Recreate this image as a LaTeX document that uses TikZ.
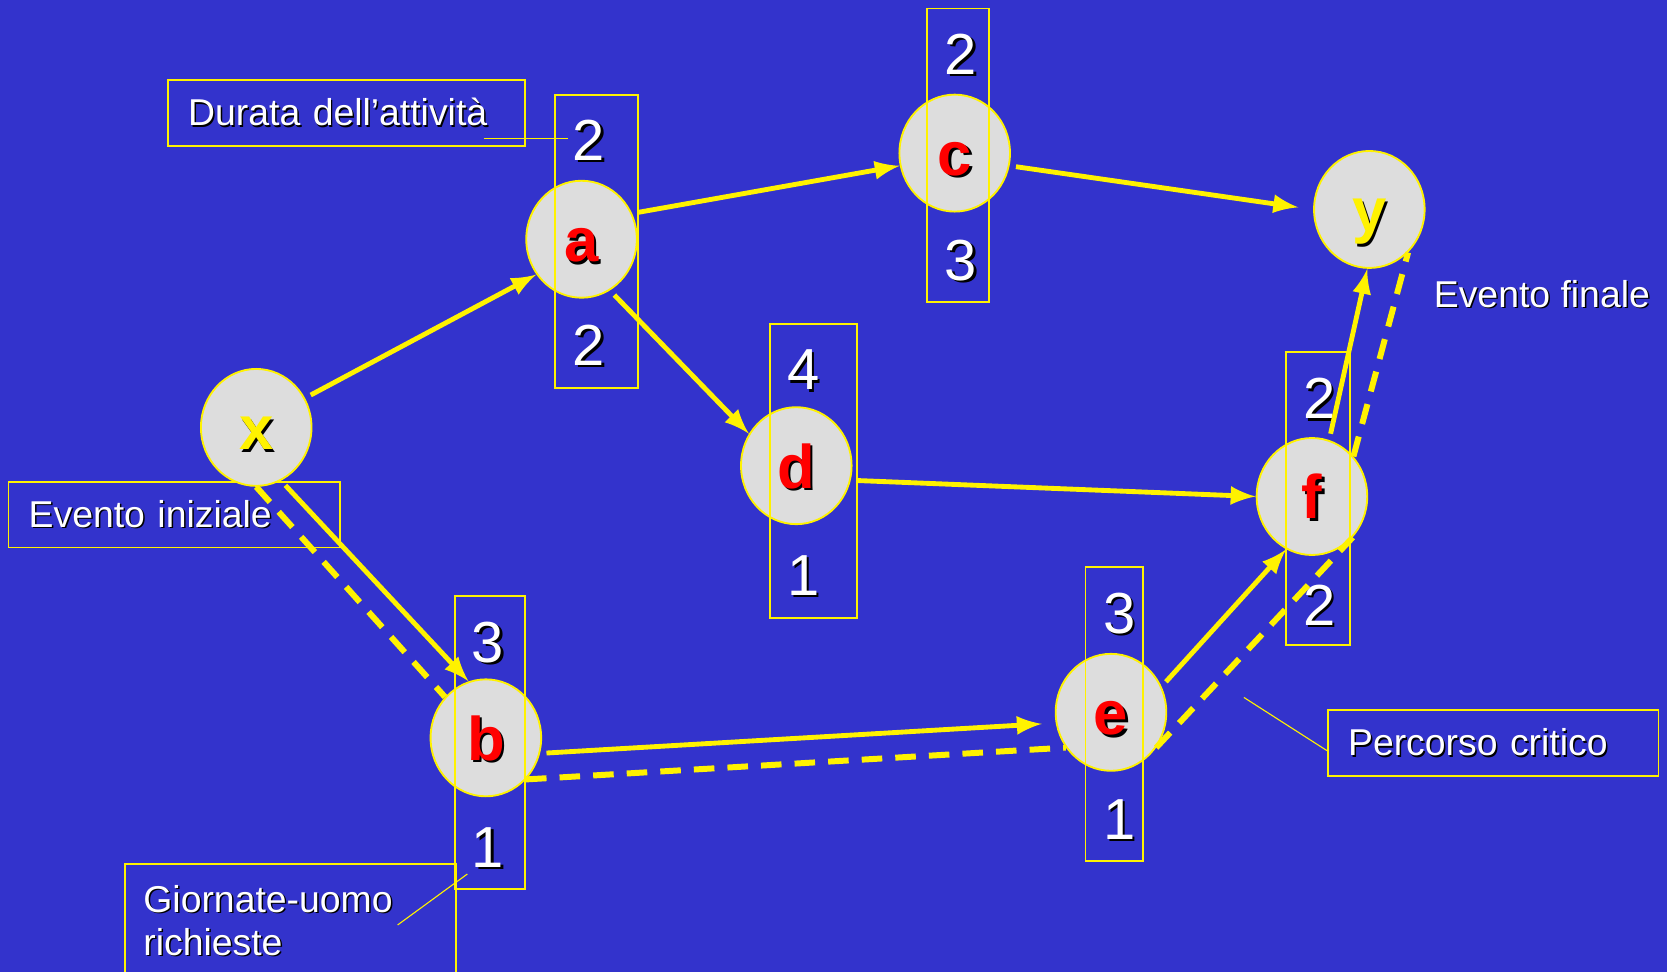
\documentclass[tikz,border=0pt]{standalone}
\usepackage{fontspec}
\setmainfont{Liberation Sans}
\usetikzlibrary{shapes.geometric, arrows}

\definecolor{slideblue}{RGB}{51,51,204}
\definecolor{eventgray}{RGB}{221,221,221}
% text with a small dark drop shadow
\newcommand{\shd}[2]{\leavevmode\rlap{\kern0.04em\raisebox{-0.04em}{\color{black}#2}}\textcolor{#1}{#2}}

\tikzset{
  event/.style={ellipse, draw=yellow, line width=0.5pt, fill=eventgray,
    minimum width=1.04cm, minimum height=1.10cm, inner sep=0pt,
    text height=12pt, text depth=0pt, font=\fontsize{16.5}{17}\selectfont\bfseries},
  timebox/.style={draw=yellow, line width=0.5pt, minimum height=2.76cm, inner sep=0pt},
  num/.style={font=\fontsize{15.5}{16}\selectfont, inner sep=1pt},
  act/.style={draw=yellow, line width=1.3pt, -latex, shorten <=0.06cm},
  crit/.style={draw=yellow, line width=1.6pt, dash pattern=on 5.5pt off 3.5pt},
  notebox/.style={draw=yellow, line width=0.5pt, align=left, inner xsep=0.19cm,
    inner ysep=0pt, font=\fontsize{10}{11.6}\selectfont},
  leader/.style={draw=yellow, line width=0.3pt}
}

\begin{document}
\begin{tikzpicture}
    %% background
    \fill[slideblue] (0,0) rectangle (15.68,-9.14);
    \useasboundingbox (0,0) rectangle (15.68,-9.14);

    %% notes
    \node[notebox, text width=2.98cm, minimum height=0.62cm] (durata) at (3.26,-1.06) {\shd{white}{Durata dell’attività}};
    \node[notebox, text width=2.74cm, minimum height=0.62cm] (iniziale) at (1.64,-4.84) {\shd{white}{Evento iniziale}};
    \node[notebox, text width=2.73cm, minimum height=0.62cm] (percorso) at (14.045,-6.99) {\shd{white}{Percorso critico}};
    \node[notebox, anchor=north west, text width=2.77cm, inner xsep=0.17cm, minimum height=1.07cm] (giornate) at (1.17,-8.12) {\shd{white}{Giornate-uomo}\\\shd{white}{richieste}};
    \node[anchor=west, inner sep=0pt, font=\fontsize{10}{12}\selectfont] (finale) at (13.48,-2.77) {\shd{white}{Evento finale}};

    %% events
    \node[event] (x) at (2.41,-4.02) {\shd{yellow}{x}};
    \node[event] (a) at (5.47,-2.25) {\shd{red}{a}};
    \node[event] (c) at (8.98,-1.44) {\shd{red}{c}};
    \node[event] (y) at (12.88,-1.97) {\shd{yellow}{y}};
    \node[event] (d) at (7.49,-4.38) {\shd{red}{d}};
    \node[event] (f) at (12.34,-4.67) {\shd{red}{f}};
    \node[event] (e) at (10.45,-6.70) {\shd{red}{e}};
    \node[event] (b) at (4.57,-6.94) {\shd{red}{b}};

    %% boxes round the events
    \node[timebox, minimum width=0.78cm] (boxa) at (5.61,-2.27) {};
    \node[timebox, minimum width=0.58cm] (boxc) at (9.01,-1.46) {};
    \node[timebox, minimum width=0.82cm] (boxd) at (7.65,-4.43) {};
    \node[timebox, minimum width=0.60cm] (boxf) at (12.40,-4.69) {};
    \node[timebox, minimum width=0.54cm] (boxe) at (10.48,-6.715) {};
    \node[timebox, minimum width=0.66cm] (boxb) at (4.61,-6.985) {};

    % duration on top, man-days below
    \node[num] (a1) at (5.54,-1.33) {\shd{white}{2}};
    \node[num] (a2) at (5.54,-3.26) {\shd{white}{2}};
    \node[num] (c1) at (9.04,-0.52) {\shd{white}{2}};
    \node[num] (c2) at (9.04,-2.46) {\shd{white}{3}};
    \node[num] (d1) at (7.56,-3.49) {\shd{white}{4}};
    \node[num] (d2) at (7.56,-5.42) {\shd{white}{1}};
    \node[num] (f1) at (12.41,-3.76) {\shd{white}{2}};
    \node[num] (f2) at (12.41,-5.70) {\shd{white}{2}};
    \node[num] (e1) at (10.53,-5.78) {\shd{white}{3}};
    \node[num] (e2) at (10.53,-7.72) {\shd{white}{1}};
    \node[num] (b1) at (4.59,-6.05) {\shd{white}{3}};
    \node[num] (b2) at (4.59,-7.98) {\shd{white}{1}};

    %% activities
    \draw[act] (x.31) -- (a.218);
    \draw[act] (a.27) -- (c.193);
    \draw[act, shorten >=0.14cm] (c.-13) -- (y.west);
    \draw[act] (a.-61) -- (d.146);
    \draw[act] (d.-15) -- (f.west);
    \draw[act] (x.-65) -- (b.107);
    \draw[act, shorten >=0.13cm] (b.-16) -- (e.191);
    \draw[act] (e.27) -- (f.244);
    \draw[act] (f.73) -- (y.268);

    %% critical path
    \draw[crit] (x.270) -- (b.135);
    \draw[crit] (b.314) -- (e.218);
    \draw[crit] (e.322) -- (f.315);
    \draw[crit] (f.44) -- (y.312);

    %% leaders
    \coordinate (durata-end) at (4.55,-1.30);
    \draw[leader] (durata-end) -- (durata-end -| a1.west);
    \coordinate (giornate-end) at (3.74,-8.70);
    \draw[leader] (giornate-end) -- (b2.south west);
    \coordinate (percorso-end) at (11.70,-6.56);
    \draw[leader] (percorso-end) -- ([yshift=-0.07cm]percorso.west);
\end{tikzpicture}
\end{document}
